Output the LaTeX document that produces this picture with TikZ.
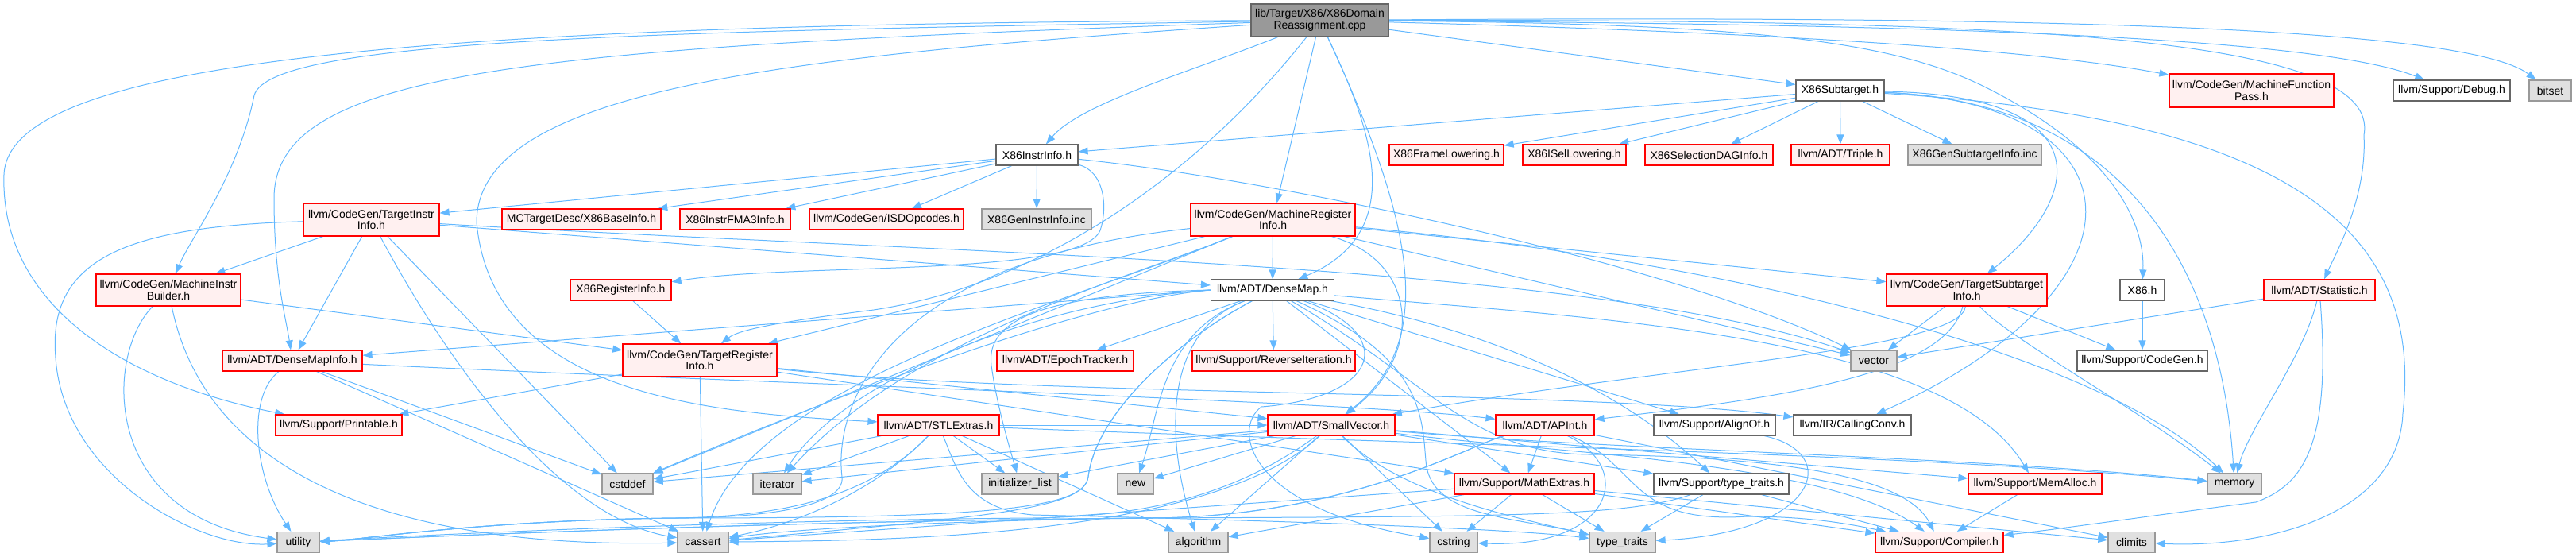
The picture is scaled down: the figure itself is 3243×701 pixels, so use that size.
\documentclass[tikz,border=0pt]{standalone}
\usepackage{fontspec}
\setsansfont{Liberation Sans}
\definecolor{edgeblue}{RGB}{99,184,255}
\definecolor{redfill}{RGB}{255,240,240}
\definecolor{grayfill}{RGB}{224,224,224}
\definecolor{grayline}{RGB}{153,153,153}
\definecolor{darkline}{RGB}{102,102,102}
\definecolor{mainfill}{RGB}{153,153,153}
\usetikzlibrary{arrows.meta}
\pgfdeclarelayer{edges}
\pgfsetlayers{edges,main}
\tikzset{
	hdr/.style={rectangle, inner sep=0pt, minimum height=26pt, line width=1.2pt, align=center, font=\sffamily\fontsize{14}{14.7}\selectfont},
	redhdr/.style={hdr, draw=red, fill=redfill},
	sysbox/.style={hdr, draw=grayline, fill=grayfill},
	plainhdr/.style={hdr, draw=darkline, fill=white},
	mainhdr/.style={hdr, draw=darkline, fill=mainfill},
	dep/.style={-{Triangle[length=12pt,width=9pt]}, line width=1pt, draw=edgeblue},
}

\begin{document}
\begin{tikzpicture}[x=1pt, y=1pt]
	\useasboundingbox (0,0) rectangle (3243,-701);
	% top rows
	\node[mainhdr, minimum width=173pt, minimum height=41pt] (main) at (1661.5,-25.5) {lib/Target/X86/X86Domain\\Reassignment.cpp};
	\node[plainhdr, minimum width=111pt] (subtgt) at (2316.5,-114) {X86Subtarget.h};
	\node[redhdr, minimum width=207pt, minimum height=42pt] (mfpass) at (2834.5,-114) {llvm/CodeGen/MachineFunction\\Pass.h};
	\node[plainhdr, minimum width=147pt] (debug) at (3086.5,-114) {llvm/Support/Debug.h};
	\node[sysbox, minimum width=53pt] (bitset) at (3210.5,-114) {bitset};
	\node[plainhdr, minimum width=103pt] (instrinfo) at (1305.5,-195) {X86InstrInfo.h};
	\node[redhdr, minimum width=144pt] (framelow) at (1821,-195) {X86FrameLowering.h};
	\node[redhdr, minimum width=130pt] (isellow) at (1982,-195) {X86ISelLowering.h};
	\node[redhdr, minimum width=161pt] (seldag) at (2151.5,-195) {X86SelectionDAGInfo.h};
	\node[redhdr, minimum width=124pt] (triple) at (2317,-195) {llvm/ADT/Triple.h};
	\node[sysbox, minimum width=168pt] (gensubtgt) at (2486,-195) {X86GenSubtargetInfo.inc};
	\node[redhdr, minimum width=171pt, minimum height=41pt] (tii) at (467.5,-276.5) {llvm/CodeGen/TargetInstr\\Info.h};
	\node[redhdr, minimum width=200pt] (baseinfo) at (732,-276) {MCTargetDesc/X86BaseInfo.h};
	\node[redhdr, minimum width=139pt] (fma3) at (925.5,-276) {X86InstrFMA3Info.h};
	\node[redhdr, minimum width=194pt] (isdopc) at (1116,-276) {llvm/CodeGen/ISDOpcodes.h};
	\node[sysbox, minimum width=138pt] (geninstr) at (1305,-276) {X86GenInstrInfo.inc};
	\node[redhdr, minimum width=207pt, minimum height=41pt] (mri) at (1602.5,-276.5) {llvm/CodeGen/MachineRegister\\Info.h};
	% middle rows
	\node[redhdr, minimum width=182pt, minimum height=40pt] (mib) at (212,-365) {llvm/CodeGen/MachineInstr\\Builder.h};
	\node[redhdr, minimum width=127pt] (x86reg) at (781.5,-365) {X86RegisterInfo.h};
	\node[plainhdr, minimum width=155pt] (densemap) at (1602,-365) {llvm/ADT/DenseMap.h};
	\node[redhdr, minimum width=202pt, minimum height=40pt] (tsi) at (2476,-365) {llvm/CodeGen/TargetSubtarget\\Info.h};
	\node[plainhdr, minimum width=56pt] (x86h) at (2697,-365) {X86.h};
	\node[redhdr, minimum width=140pt] (statistic) at (2920,-365) {llvm/ADT/Statistic.h};
	\node[redhdr, minimum width=176pt] (dmapinfo) at (368,-454) {llvm/ADT/DenseMapInfo.h};
	\node[redhdr, minimum width=194pt, minimum height=41pt] (tri) at (881,-453.5) {llvm/CodeGen/TargetRegister\\Info.h};
	\node[redhdr, minimum width=172pt] (epoch) at (1341,-454) {llvm/ADT/EpochTracker.h};
	\node[redhdr, minimum width=205pt] (reverse) at (1603.5,-454) {llvm/Support/ReverseIteration.h};
	\node[sysbox, minimum width=58pt] (vector) at (2359,-454) {vector};
	\node[plainhdr, minimum width=164pt] (cgen) at (2697,-454) {llvm/Support/CodeGen.h};
	\node[redhdr, minimum width=159pt] (printable) at (426.5,-535) {llvm/Support/Printable.h};
	\node[redhdr, minimum width=153pt] (stlextras) at (1181.5,-535) {llvm/ADT/STLExtras.h};
	\node[redhdr, minimum width=160pt] (smallvec) at (1676,-535) {llvm/ADT/SmallVector.h};
	\node[redhdr, minimum width=124pt] (apint) at (1945,-535) {llvm/ADT/APInt.h};
	\node[plainhdr, minimum width=153pt] (alignof) at (2158.5,-535) {llvm/Support/AlignOf.h};
	\node[plainhdr, minimum width=148pt] (callconv) at (2332,-535) {llvm/IR/CallingConv.h};
	% bottom rows
	\node[sysbox, minimum width=64pt] (cstddef) at (790,-609) {cstddef};
	\node[sysbox, minimum width=61pt] (iterator) at (978.5,-609) {iterator};
	\node[sysbox, minimum width=96pt] (initlist) at (1284,-609) {initializer\_list};
	\node[sysbox, minimum width=45pt] (new) at (1429.5,-609) {new};
	\node[redhdr, minimum width=176pt] (mathext) at (1919,-609) {llvm/Support/MathExtras.h};
	\node[plainhdr, minimum width=170pt] (suptt) at (2167,-609) {llvm/Support/type\_traits.h};
	\node[redhdr, minimum width=168pt] (memalloc) at (2562,-609) {llvm/Support/MemAlloc.h};
	\node[sysbox, minimum width=68pt] (memory) at (2813,-609) {memory};
	\node[sysbox, minimum width=53pt] (utility) at (375.5,-682.5) {utility};
	\node[sysbox, minimum width=64pt] (cassert) at (885,-682.5) {cassert};
	\node[sysbox, minimum width=75pt] (algorithm) at (1508.5,-682.5) {algorithm};
	\node[sysbox, minimum width=60pt] (cstring) at (1830,-682.5) {cstring};
	\node[sysbox, minimum width=83pt] (typetraits) at (2042.5,-682.5) {type\_traits};
	\node[redhdr, minimum width=161pt] (compiler) at (2441.5,-682.5) {llvm/Support/Compiler.h};
	\node[sysbox, minimum width=59pt] (climits) at (2683.5,-682.5) {climits};

	\begin{pgfonlayer}{edges}
	% includes of the .cpp
	\draw[dep] (main) .. controls (1500,-90) and (1360,-130) .. (instrinfo);
	\draw[dep] (main) -- (subtgt);
	\draw[dep] (main) .. controls (2200,-40) and (2550,-60) .. (mfpass);
	\draw[dep] (main) .. controls (2300,-30) and (2900,-40) .. (debug);
	\draw[dep] (main) .. controls (2500,-20) and (3100,-30) .. (bitset);
	\draw[dep] (main) -- (mri);
	\draw[dep] (main) .. controls (1720,-150) and (1780,-290) .. (densemap);
	\draw[dep] (main) .. controls (1780,-280) and (1810,-430) .. (smallvec);
	\draw[dep] (main) .. controls (2200,-30) and (2380,-50) .. (2500,-110) .. controls (2660,-190) and (2700,-280) .. (x86h);
	\draw[dep] (main) .. controls (2500,-25) and (3000,-40) .. (2976,-170) .. controls (2980,-250) and (2940,-320) .. (statistic);
	\draw[dep] (main) .. controls (800,-40) and (340,-50) .. (320,-120) .. controls (300,-220) and (240,-300) .. (mib);
	\draw[dep] (main) .. controls (650,-60) and (345,-90) .. (345,-250) .. controls (345,-350) and (360,-400) .. (dmapinfo);
	\draw[dep] (main) .. controls (500,-30) and (10,-80) .. (5,-220) .. controls (0,-380) and (150,-480) .. (printable);
	\draw[dep] (main) .. controls (1000,-70) and (600,-110) .. (600,-280) .. controls (620,-500) and (900,-520) .. (stlextras);
	\draw[dep] (main) .. controls (1500,-230) and (1300,-360) .. (1100,-390) .. controls (980,-405) and (930,-415) .. (tri);
	% X86 headers
	\foreach \x in {tii,baseinfo,fma3,isdopc,geninstr}{\draw[dep] (instrinfo) -- (\x);}
	\draw[dep] (instrinfo) .. controls (1600,-225) and (2100,-330) .. (vector);
	\draw[dep] (instrinfo) .. controls (1390,-215) and (1395,-260) .. (1385,-290) .. controls (1360,-350) and (1000,-330) .. (x86reg);
	\foreach \x in {instrinfo,framelow,isellow,seldag,triple,gensubtgt}{\draw[dep] (subtgt) -- (\x);}
	\draw[dep] (subtgt) .. controls (2650,-120) and (2620,-250) .. (tsi);
	\draw[dep] (subtgt) .. controls (2700,-130) and (2720,-360) .. (callconv);
	\draw[dep] (subtgt) .. controls (2720,-130) and (2800,-400) .. (memory);
	\draw[dep] (subtgt) .. controls (2900,-150) and (3050,-300) .. (3025,-520) .. controls (3020,-650) and (2850,-690) .. (climits);
	\draw[dep] (x86reg) -- (tri);
	\draw[dep] (x86h) -- (cgen);
	% CodeGen headers
	\foreach \x in {mib,dmapinfo,cstddef,densemap}{\draw[dep] (tii) -- (\x);}
	\draw[dep] (tii) .. controls (560,-450) and (700,-650) .. (cassert);
	\draw[dep] (tii) .. controls (1200,-320) and (2000,-330) .. (vector);
	\draw[dep] (tii) .. controls (150,-285) and (60,-330) .. (70,-450) .. controls (80,-600) and (250,-690) .. (utility);
	\draw[dep] (mib) -- (tri);
	\draw[dep] (mib) .. controls (130,-450) and (130,-650) .. (utility);
	\draw[dep] (mib) .. controls (260,-600) and (500,-690) .. (cassert);
	\foreach \x in {densemap,tri,tsi,vector,cstddef}{\draw[dep] (mri) -- (\x);}
	\draw[dep] (mri) .. controls (1450,-340) and (1150,-420) .. (iterator);
	\draw[dep] (mri) .. controls (1350,-380) and (950,-480) .. (cassert);
	\draw[dep] (mri) .. controls (1100,-330) and (1050,-520) .. (1060,-600) .. controls (1065,-640) and (950,-652) .. (850,-652) .. controls (600,-655) and (450,-680) .. (utility);
	\draw[dep] (mri) .. controls (1790,-330) and (1790,-450) .. (smallvec);
	\draw[dep] (mri) .. controls (2200,-330) and (2650,-450) .. (memory);
	\foreach \x in {printable,cassert,smallvec,mathext}{\draw[dep] (tri) -- (\x);}
	\draw[dep] (tri) .. controls (1300,-500) and (2000,-490) .. (callconv);
	\foreach \x in {vector,cgen}{\draw[dep] (tsi) -- (\x);}
	\draw[dep] (tsi) .. controls (2520,-420) and (2700,-520) .. (memory);
	\draw[dep] (tsi) .. controls (2450,-470) and (2250,-500) .. (apint);
	\draw[dep] (tsi) .. controls (2470,-440) and (2100,-460) .. (smallvec);
	\draw[dep] (statistic) -- (vector);
	\draw[dep] (statistic) .. controls (2900,-450) and (2830,-540) .. (memory);
	\draw[dep] (statistic) .. controls (2935,-560) and (2900,-610) .. (2840,-632) .. controls (2700,-650) and (2600,-665) .. (compiler);
	% ADT headers
	\foreach \x in {epoch,reverse,alignof,mathext}{\draw[dep] (densemap) -- (\x);}
	\draw[dep] (densemap.west) -- (dmapinfo);
	\draw[dep] (densemap) .. controls (1900,-420) and (2050,-500) .. (suptt);
	\draw[dep] (densemap) .. controls (2000,-400) and (2450,-420) .. (memalloc);
	\draw[dep] (densemap) .. controls (1460,-420) and (1460,-520) .. (new);
	\draw[dep] (densemap.west) .. controls (1320,-370) and (1240,-400) .. (1248,-460) .. controls (1255,-510) and (1270,-560) .. (initlist);
	\draw[dep] (densemap.west) .. controls (1300,-380) and (1060,-480) .. (iterator);
	\draw[dep] (densemap.west) .. controls (1350,-380) and (1000,-520) .. (cstddef);
	\draw[dep] (densemap) .. controls (1480,-430) and (1380,-520) .. (1370,-600) .. controls (1365,-640) and (1250,-650) .. (cassert);
	\draw[dep] (densemap) .. controls (1480,-430) and (1380,-520) .. (1370,-600) .. controls (1365,-640) and (1250,-652) .. (850,-652) .. controls (600,-655) and (450,-680) .. (utility);
	\draw[dep] (densemap) .. controls (1460,-420) and (1470,-560) .. (algorithm);
	\draw[dep] (densemap) .. controls (1760,-420) and (1740,-500) .. (1588,-512) .. controls (1550,-540) and (1570,-640) .. (cstring);
	\draw[dep] (densemap) .. controls (1790,-450) and (1790,-520) .. (1795,-580) .. controls (1800,-650) and (1900,-650) .. (typetraits);
	\draw[dep] (densemap) .. controls (1800,-480) and (1850,-570) .. (2000,-572) .. controls (2250,-575) and (2400,-600) .. (compiler);
	\draw[dep] (dmapinfo) .. controls (900,-480) and (1700,-505) .. (apint);
	\foreach \x in {cassert,cstddef}{\draw[dep] (dmapinfo) -- (\x);}
	\draw[dep] (dmapinfo) .. controls (310,-500) and (320,-600) .. (utility);
	\foreach \x in {smallvec,initlist,iterator,cstddef,algorithm}{\draw[dep] (stlextras) -- (\x);}
	\draw[dep] (stlextras) .. controls (1100,-620) and (1000,-660) .. (cassert);
	\draw[dep] (stlextras) .. controls (1205,-590) and (1215,-640) .. (1300,-648) .. controls (1600,-655) and (1900,-665) .. (typetraits);
	\draw[dep] (stlextras) .. controls (1100,-620) and (1000,-650) .. (850,-652) .. controls (600,-655) and (450,-680) .. (utility);
	\draw[dep] (stlextras) .. controls (1800,-560) and (2400,-570) .. (memory);
	\foreach \x in {suptt,memalloc,algorithm,cstring,new,initlist,iterator,cstddef}{\draw[dep] (smallvec) -- (\x);}
	\draw[dep] (smallvec) .. controls (2000,-565) and (2500,-575) .. (memory);
	\draw[dep] (smallvec) .. controls (1950,-570) and (2300,-580) .. (compiler);
	\draw[dep] (smallvec) .. controls (1520,-680) and (1100,-680) .. (cassert);
	\draw[dep] (smallvec) .. controls (1760,-620) and (1900,-650) .. (typetraits);
	\draw[dep] (smallvec) .. controls (1560,-620) and (1450,-650) .. (1300,-652) .. controls (900,-655) and (500,-675) .. (utility);
	\foreach \x in {mathext,climits}{\draw[dep] (apint) -- (\x);}
	\draw[dep] (apint) .. controls (1850,-560) and (1700,-650) .. (1450,-652) .. controls (1200,-655) and (1000,-665) .. (cassert);
	\draw[dep] (apint) .. controls (1850,-560) and (1700,-650) .. (1450,-652) .. controls (1000,-655) and (550,-675) .. (utility);
	\draw[dep] (apint) .. controls (2065,-585) and (2050,-660) .. (2200,-650) .. controls (2280,-650) and (2330,-660) .. (compiler);
	\draw[dep] (apint) .. controls (2060,-590) and (2030,-690) .. (cstring);
	% Support headers
	\foreach \x in {compiler,climits,algorithm,cassert,cstring,typetraits}{\draw[dep] (mathext) -- (\x);}
	\foreach \x in {compiler,typetraits}{\draw[dep] (suptt) -- (\x);}
	\draw[dep] (suptt) .. controls (2050,-650) and (1900,-650) .. (1450,-652) .. controls (1000,-655) and (550,-675) .. (utility);
	\draw[dep] (memalloc) -- (compiler);
	\draw[dep] (alignof) .. controls (2320,-570) and (2290,-670) .. (typetraits);
	\end{pgfonlayer}
\end{tikzpicture}
\end{document}
